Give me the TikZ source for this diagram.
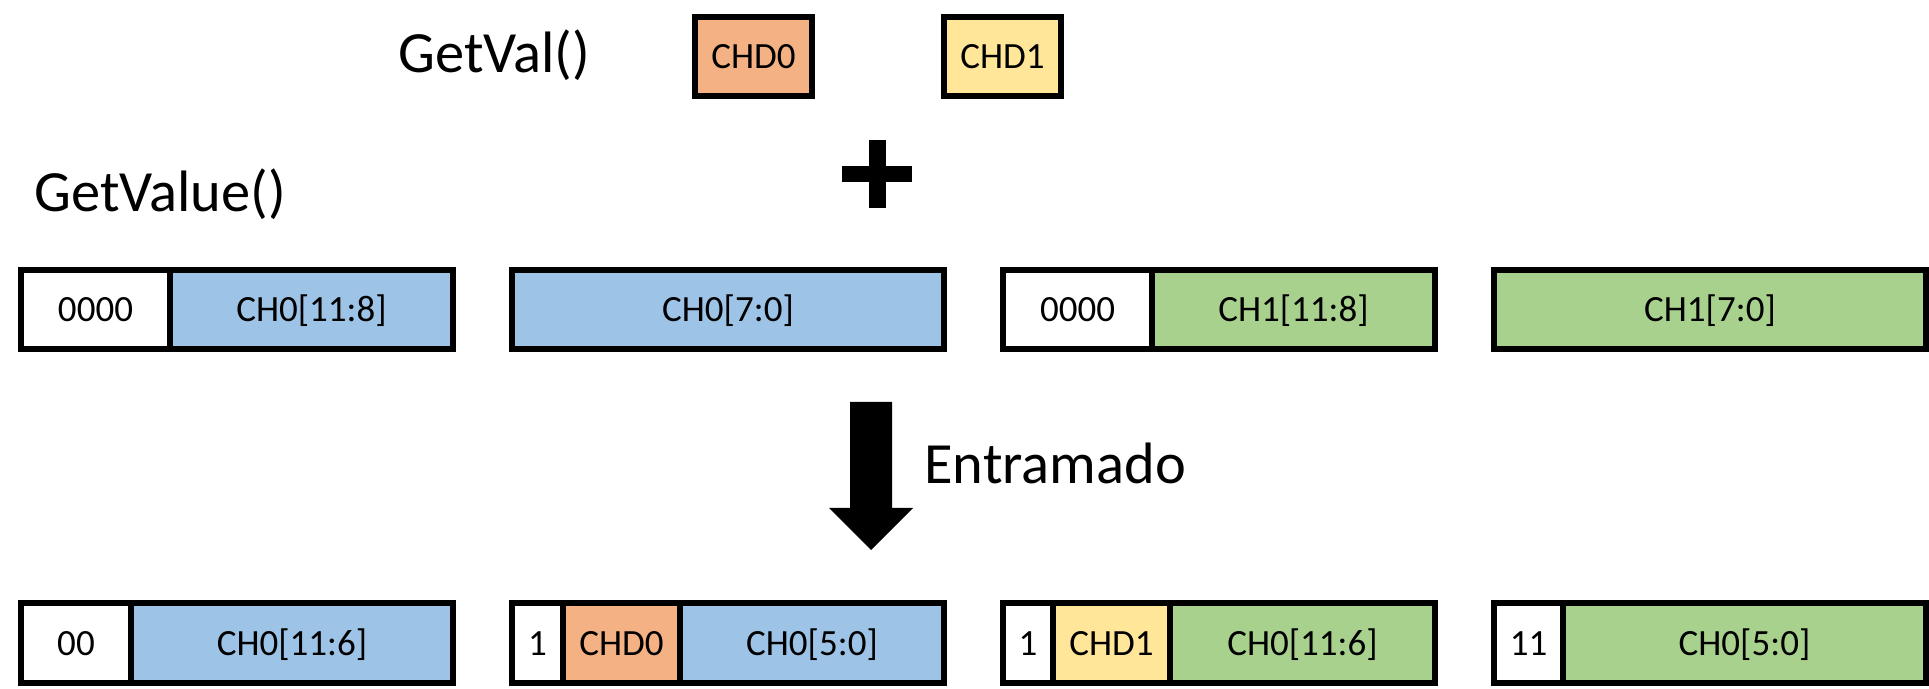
\documentclass[tikz,border=0pt]{standalone}
\usepackage{fontspec}
\setmainfont{Carlito}
\definecolor{cblue}{HTML}{9DC3E6}
\definecolor{cgreen}{HTML}{A9D18E}
\definecolor{corange}{HTML}{F4B183}
\definecolor{cyellow}{HTML}{FFE699}
\tikzset{
  cellbox/.style={draw=black, line width=2.75pt, outer sep=0pt, inner sep=0pt,
    anchor=north west, font=\fontsize{18.5}{22}\selectfont,
    text height=12pt, text depth=0pt},
  biglabel/.style={anchor=base west, inner sep=0pt, font=\fontsize{29.2}{35}\selectfont},
}
\newcommand{\mycell}[7]{%
  \node[cellbox, fill=#6, minimum width={(#3-#2)*0.5pt}, minimum height={(#5-#4)*0.5pt}] (#1) at (#2,#4) {#7};}
\begin{document}
\begin{tikzpicture}[x=0.5pt, y=-0.5pt]
\useasboundingbox (0,0) rectangle (1929,689);
% top labels
\node[biglabel] (getval) at (398,72.5) {GetVal()};
\node[biglabel] (getvalue) at (34,212) {GetValue()};
\mycell{chd0}{695}{812}{17}{96}{corange}{CHD0}
\mycell{chd1}{944}{1061}{17}{96}{cyellow}{CHD1}
% plus sign
\fill[black] (842,166) rectangle (912,182);
\fill[black] (868.5,140) rectangle (885.5,208);
% row 1
\mycell{a1}{21}{170}{270}{349}{white}{0000}
\mycell{a2}{170}{453}{270}{349}{cblue}{CH0[11:8]}
\mycell{b1}{512}{944}{270}{349}{cblue}{CH0[7:0]}
\mycell{c1}{1003}{1152}{270}{349}{white}{0000}
\mycell{c2}{1152}{1435}{270}{349}{cgreen}{CH1[11:8]}
\mycell{d1}{1494}{1926}{270}{349}{cgreen}{CH1[7:0]}
% arrow
\fill[black] (850,402) -- (892,402) -- (892,508) -- (913,508) -- (871,550) -- (829,508) -- (850,508) -- cycle;
\node[biglabel] (entramado) at (924,484) {Entramado};
% row 2
\mycell{e1}{21}{131}{603}{683}{white}{00}
\mycell{e2}{131}{453}{603}{683}{cblue}{CH0[11:6]}
\mycell{f1}{512}{563}{603}{683}{white}{1}
\mycell{f2}{563}{680}{603}{683}{corange}{CHD0}
\mycell{f3}{680}{944}{603}{683}{cblue}{CH0[5:0]}
\mycell{g1}{1003}{1053}{603}{683}{white}{1}
\mycell{g2}{1053}{1170}{603}{683}{cyellow}{CHD1}
\mycell{g3}{1170}{1435}{603}{683}{cgreen}{CH0[11:6]}
\mycell{h1}{1494}{1563}{603}{683}{white}{11}
\mycell{h2}{1563}{1926}{603}{683}{cgreen}{CH0[5:0]}
\end{tikzpicture}
\end{document}
